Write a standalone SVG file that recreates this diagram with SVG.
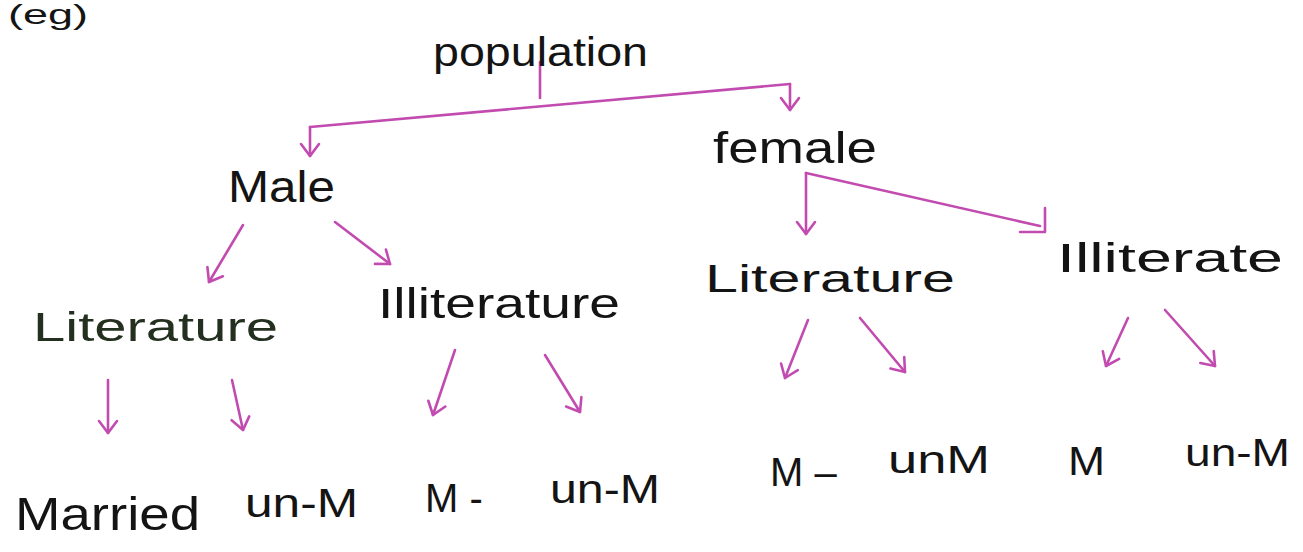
<svg xmlns="http://www.w3.org/2000/svg" width="1303" height="552" viewBox="0 0 1303 552">
<style>
.t{font-family:"Liberation Sans","DejaVu Sans",sans-serif;fill:#141414;}
.g{fill:#24301f;}
.c{fill:none;stroke:#c24bb0;stroke-width:2.6;stroke-linecap:round;stroke-linejoin:round;}
</style>
<defs>
<marker id="ah" viewBox="-14 -12 16 24" markerWidth="16" markerHeight="24" refX="0" refY="0" orient="auto" markerUnits="userSpaceOnUse">
<path d="M -12 -9 L 0 0 L -12 9" fill="none" stroke="#c24bb0" stroke-width="2.6" stroke-linecap="round" stroke-linejoin="round"/>
</marker>
</defs>
<rect width="1303" height="552" fill="#ffffff"/>
<text class="t" x="8" y="24" font-size="28" textLength="80" lengthAdjust="spacingAndGlyphs">(eg)</text>
<g id="connectors">
<path class="c" d="M 540 62 L 540 98"/>
<path class="c" d="M 310 127 L 790 84"/>
<path class="c" d="M 310 127 L 310 156" marker-end="url(#ah)"/>
<path class="c" d="M 790 84 L 790 110" marker-end="url(#ah)"/>
<path class="c" d="M 243 225 L 209 282" marker-end="url(#ah)"/>
<path class="c" d="M 335 222 L 390 264" marker-end="url(#ah)"/>
<path class="c" d="M 806 173 L 806 234" marker-end="url(#ah)"/>
<path class="c" d="M 806 173 L 1040 226"/>
<path class="c" d="M 1045 208 L 1045 232 L 1020 232"/>
<path class="c" d="M 108 380 L 108 433" marker-end="url(#ah)"/>
<path class="c" d="M 232 380 L 243 430" marker-end="url(#ah)"/>
<path class="c" d="M 455 350 L 433 415" marker-end="url(#ah)"/>
<path class="c" d="M 545 355 L 580 412" marker-end="url(#ah)"/>
<path class="c" d="M 808 320 L 785 378" marker-end="url(#ah)"/>
<path class="c" d="M 860 318 L 905 372" marker-end="url(#ah)"/>
<path class="c" d="M 1128 318 L 1106 366" marker-end="url(#ah)"/>
<path class="c" d="M 1165 310 L 1215 366" marker-end="url(#ah)"/>
</g>
<g id="population"><text class="t" x="433" y="66" font-size="40" textLength="215" lengthAdjust="spacingAndGlyphs">population</text></g>
<g id="male"><text class="t" x="228" y="202" font-size="44" textLength="107" lengthAdjust="spacingAndGlyphs">Male</text></g>
<g id="female"><text class="t" x="713" y="163" font-size="44" textLength="164" lengthAdjust="spacingAndGlyphs">female</text></g>
<g id="male-literature"><text class="t g" x="33" y="341" font-size="40" textLength="245" lengthAdjust="spacingAndGlyphs">Literature</text></g>
<g id="male-illiterature"><text class="t" x="378" y="318" font-size="42" textLength="242" lengthAdjust="spacingAndGlyphs">Illiterature</text></g>
<g id="female-literature"><text class="t" x="705" y="292" font-size="38" textLength="250" lengthAdjust="spacingAndGlyphs">Literature</text></g>
<g id="female-illiterate"><text class="t" x="1057" y="272" font-size="40" textLength="226" lengthAdjust="spacingAndGlyphs">Illiterate</text></g>
<g id="married"><text class="t" x="15" y="530" font-size="46" textLength="185" lengthAdjust="spacingAndGlyphs">Married</text></g>
<g id="unm1"><text class="t" x="245" y="517" font-size="40" textLength="113" lengthAdjust="spacingAndGlyphs">un-M</text></g>
<g id="m2"><text class="t" x="425" y="512" font-size="40">M -</text></g>
<g id="unm2"><text class="t" x="550" y="503" font-size="40" textLength="110" lengthAdjust="spacingAndGlyphs">un-M</text></g>
<g id="m3"><text class="t" x="770" y="486" font-size="40">M –</text></g>
<g id="unm3"><text class="t" x="888" y="473" font-size="38" textLength="102" lengthAdjust="spacingAndGlyphs">unM</text></g>
<g id="m4"><text class="t" x="1068" y="475" font-size="40" textLength="37" lengthAdjust="spacingAndGlyphs">M</text></g>
<g id="unm4"><text class="t" x="1185" y="466" font-size="38" textLength="105" lengthAdjust="spacingAndGlyphs">un-M</text></g>
</svg>
